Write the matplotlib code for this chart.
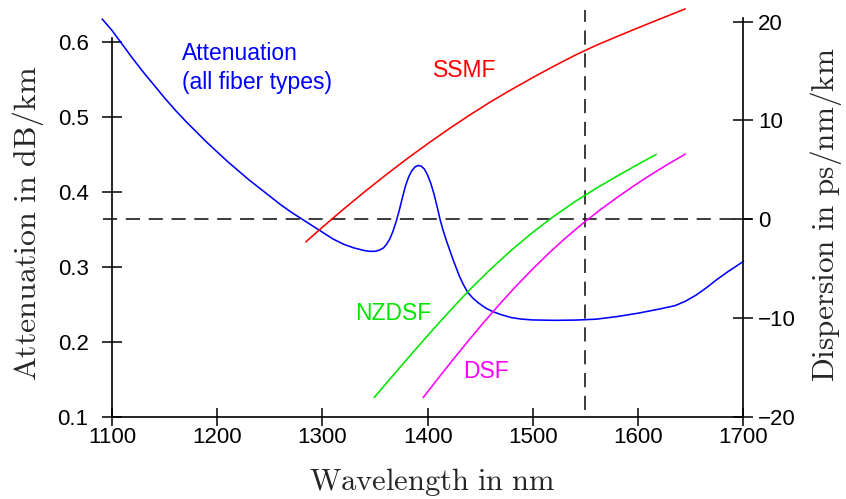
import matplotlib
matplotlib.use('Agg')
import matplotlib.pyplot as plt
import matplotlib.transforms as mtransforms

# ---------------- data ----------------
wl_att = [1090.8, 1100, 1110, 1120, 1130, 1140, 1150, 1160, 1170, 1180,
          1190, 1200, 1210, 1220, 1230, 1240, 1250, 1260, 1270, 1280,
          1290, 1300, 1310, 1320, 1330, 1340, 1345, 1350, 1354, 1358,
          1361, 1364, 1367, 1370, 1373, 1376, 1379, 1382, 1385, 1388,
          1391, 1394, 1397, 1400, 1403, 1406, 1409, 1412, 1415, 1418,
          1421, 1424, 1427, 1430, 1434, 1438, 1443, 1448, 1455, 1462,
          1470, 1480, 1490, 1500, 1520, 1540, 1560, 1580, 1600, 1620,
          1635, 1645, 1655, 1665, 1675, 1685, 1700]
att = [0.630, 0.615, 0.596, 0.577, 0.559, 0.542, 0.525, 0.509, 0.494, 0.480,
       0.466, 0.453, 0.440, 0.428, 0.416, 0.405, 0.394, 0.383, 0.373, 0.364,
       0.355, 0.346, 0.337, 0.330, 0.325, 0.3215, 0.3205, 0.3205, 0.322, 0.325,
       0.330, 0.337, 0.347, 0.360, 0.375, 0.392, 0.408, 0.420, 0.428, 0.433,
       0.435, 0.434, 0.430, 0.422, 0.411, 0.397, 0.380, 0.362, 0.347, 0.334,
       0.322, 0.310, 0.299, 0.288, 0.276, 0.266, 0.258, 0.252, 0.245, 0.240,
       0.236, 0.232, 0.230, 0.229, 0.2285, 0.2288, 0.230, 0.2335, 0.238, 0.2435,
       0.248, 0.254, 0.262, 0.272, 0.283, 0.293, 0.307]

wl_ssmf = [1284.4, 1300, 1320, 1340, 1360, 1380, 1400, 1420, 1440, 1460,
           1480, 1500, 1520, 1540, 1560, 1580, 1600, 1620, 1644.6]
d_ssmf = [-2.28, -0.81, 1.01, 2.77, 4.46, 6.09, 7.64, 9.13, 10.55, 11.9,
          13.15, 14.35, 15.5, 16.6, 17.6, 18.5, 19.38, 20.24, 21.29]

wl_nzdsf = [1349.3, 1365, 1380, 1395, 1410, 1425, 1440, 1460, 1480, 1500,
            1520, 1540, 1560, 1580, 1600, 1617]
d_nzdsf = [-18.04, -16.08, -14.22, -12.39, -10.59, -8.84, -7.14, -5.04, -3.10, -1.32,
           0.30, 1.78, 3.12, 4.36, 5.56, 6.55]

wl_dsf = [1395.9, 1410, 1425, 1440, 1455, 1470, 1485, 1500, 1515, 1530,
          1547.4, 1565, 1580, 1595, 1610, 1625, 1644.6]
d_dsf = [-18.04, -16.11, -14.10, -12.14, -10.24, -8.41, -6.67, -5.02, -3.46, -2.00,
         -0.43, 1.03, 2.20, 3.31, 4.36, 5.35, 6.58]

x_ticks = [1100, 1200, 1300, 1400, 1500, 1600, 1700]
att_ticks = [0.1, 0.2, 0.3, 0.4, 0.5, 0.6]
disp_ticks = [-20, -10, 0, 10, 20]
wl_marker = 1550

# ---------------- style ----------------
plt.rcParams['mathtext.fontset'] = 'cm'
plt.rcParams['font.family'] = ['Liberation Sans', 'DejaVu Sans']

BLUE, RED, GREEN, MAGENTA = '#0000ff', '#ff0000', '#00e600', '#ff00ff'
LW = 1.15

fig = plt.figure(figsize=(8.46, 4.99), dpi=100)
ax = fig.add_axes([0.13239, 0.16493, 0.74622, 0.82505])
ax2 = ax.twinx()

ax.set_xlim(1100, 1700)
ax.set_ylim(0.1, 0.64893)
ax2.set_ylim(-20, 21.691)

for a in (ax, ax2):
    a.patch.set_visible(False)
    a.spines['top'].set_visible(False)
ax.spines['right'].set_visible(False)
ax2.spines['left'].set_visible(False)
ax2.spines['bottom'].set_visible(False)
ax.spines['left'].set_bounds(0.1, 0.605)
ax2.spines['right'].set_bounds(-20, 20.35)
for s in ('left', 'bottom'):
    ax.spines[s].set_linewidth(1.2)
ax2.spines['right'].set_linewidth(1.2)

ax.set_xticks(x_ticks)
ax.set_xticklabels([str(v) for v in x_ticks])
ax.set_yticks(att_ticks)
ax.set_yticklabels([f'{v:.1f}' for v in att_ticks])
ax2.set_yticks(disp_ticks)

ax.tick_params(axis='x', direction='inout', length=13.3, width=1.1, pad=1.0,
               labelsize=16, colors='black')
ax.tick_params(axis='y', direction='inout', length=13.7, width=1.1, pad=10,
               labelsize=16, colors='black')
ax2.tick_params(axis='y', direction='inout', length=13.7, width=1.1, pad=4,
                labelsize=16, colors='black')

# dashed reference lines
dash = (0, (8.5, 5.2))
tr_h = mtransforms.blended_transform_factory(ax2.transAxes, ax2.transData)
ax2.plot([-0.0143, 1.0138], [0, 0], transform=tr_h, color='#1a1a1a',
         lw=1.2, ls=dash, clip_on=False, zorder=1)
tr_v = mtransforms.blended_transform_factory(ax.transData, ax.transAxes)
ax.plot([wl_marker, wl_marker], [0.016, 0.988], transform=tr_v, color='#1a1a1a',
        lw=1.2, ls=dash, clip_on=False, zorder=1)

# curves
ax.plot(wl_att, att, color=BLUE, lw=LW, clip_on=False, zorder=3)
ax2.plot(wl_ssmf, d_ssmf, color=RED, lw=LW, clip_on=False, zorder=3)
ax2.plot(wl_nzdsf, d_nzdsf, color=GREEN, lw=LW, clip_on=False, zorder=3)
ax2.plot(wl_dsf, d_dsf, color=MAGENTA, lw=LW, clip_on=False, zorder=3)

# annotations
ax.text(1166.2, 0.5756, 'Attenuation', color=BLUE, fontsize=16.5,
        ha='left', va='baseline')
ax.text(1166.2, 0.5365, '(all fiber types)', color=BLUE, fontsize=16.5,
        ha='left', va='baseline')
ax.text(1405.4, 0.5533, 'SSMF', color=RED, fontsize=16.5, ha='left', va='baseline')
ax.text(1330.9, 0.2289, 'NZDSF', color=GREEN, fontsize=16.5, ha='left', va='baseline')
ax.text(1433.9, 0.152, 'DSF', color=MAGENTA, fontsize=16.5, ha='left', va='baseline')

# axis labels
lab_col = '#262626'
fig.text(432 / 846, (499 - 490) / 499, r'$\mathrm{Wavelength\ in\ nm}$',
         fontsize=22, ha='center', va='baseline', color=lab_col)
fig.text(28 / 846, 1 - 223 / 499, r'$\mathrm{Attenuation\ in\ dB/km}$',
         fontsize=23, ha='center', va='center', rotation=90, color=lab_col)
fig.text(826 / 846, 1 - 215 / 499, r'$\mathrm{Dispersion\ in\ ps/nm/km}$',
         fontsize=22.5, ha='center', va='center', rotation=90, color=lab_col)

fig.savefig('out.png', dpi=100)
